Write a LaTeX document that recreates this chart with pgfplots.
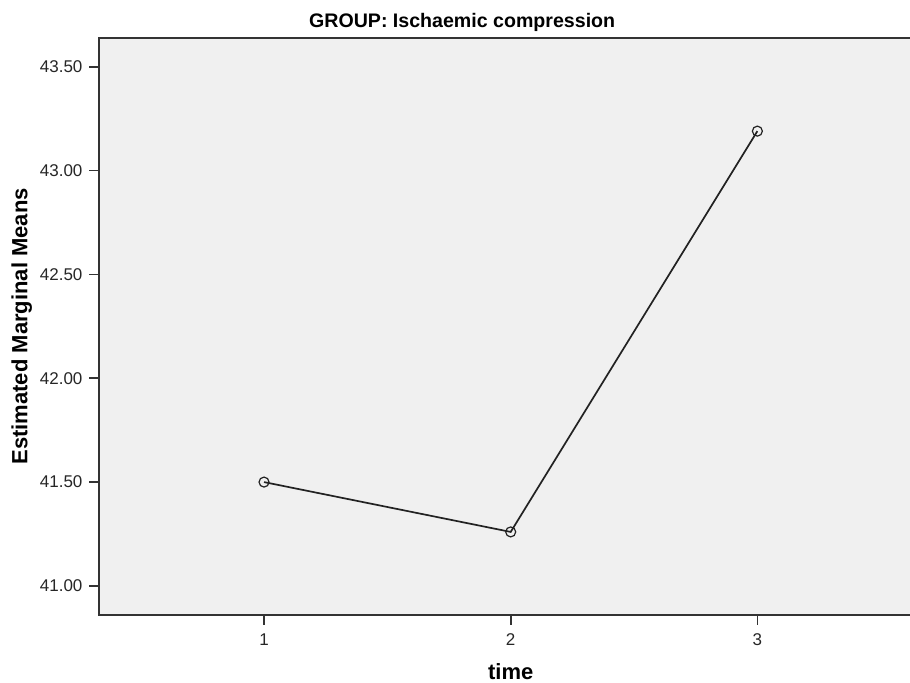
\documentclass[border=0pt]{standalone}
\usepackage{pgfplots}
\pgfplotsset{compat=1.18}
\usepackage{fontspec}
\setmainfont{Liberation Sans}
\definecolor{plotbg}{HTML}{F0F0F0}
\definecolor{frame}{HTML}{333333}
\definecolor{series}{HTML}{222222}
\begin{document}
\begin{tikzpicture}
% crop to the reference's window (right frame is cut off there)
\clip (-49.75pt,-34pt) rectangle (405.25pt,307.5pt);
\begin{axis}[
  scale only axis,
  width=411.2pt, height=288.65pt,
  xmin=0.333, xmax=3.667,
  ymin=40.86, ymax=43.64,
  axis background/.style={fill=plotbg},
  axis line style={frame, line width=1pt},
  xtick={1,2,3},
  ytick={41,41.5,42,42.5,43,43.5},
  tick align=outside, xtick pos=bottom, ytick pos=left,
  major tick length=5pt,
  tick style={frame, line width=0.8pt},
  /pgf/number format/assume math mode=true,
  tick label style={font=\fontsize{8.5}{10}\selectfont, text=black!85},
  yticklabel style={/pgf/number format/.cd, fixed, fixed zerofill, precision=2},
  xticklabel style={yshift=-1pt},
  title={GROUP: Ischaemic compression},
  title style={font=\bfseries\fontsize{9.8}{11}\selectfont,
    at={(axis description cs:0.441,1)}, anchor=base, yshift=-1.15pt},
  xlabel={time},
  xlabel style={font=\bfseries\fontsize{11}{13}\selectfont,
    at={(axis description cs:0.5,-0.098)}, anchor=center},
  ylabel={Estimated Marginal Means},
  ylabel style={font=\bfseries\fontsize{11}{13}\selectfont,
    at={(axis description cs:-0.0946,0.5)}, anchor=center},
]
\addplot[series, line width=0.85pt, mark=o, mark size=2.5pt,
  mark options={line width=0.6pt}] coordinates {
  (1,41.50) (2,41.26) (3,43.19)
};
\end{axis}
\end{tikzpicture}
\end{document}
